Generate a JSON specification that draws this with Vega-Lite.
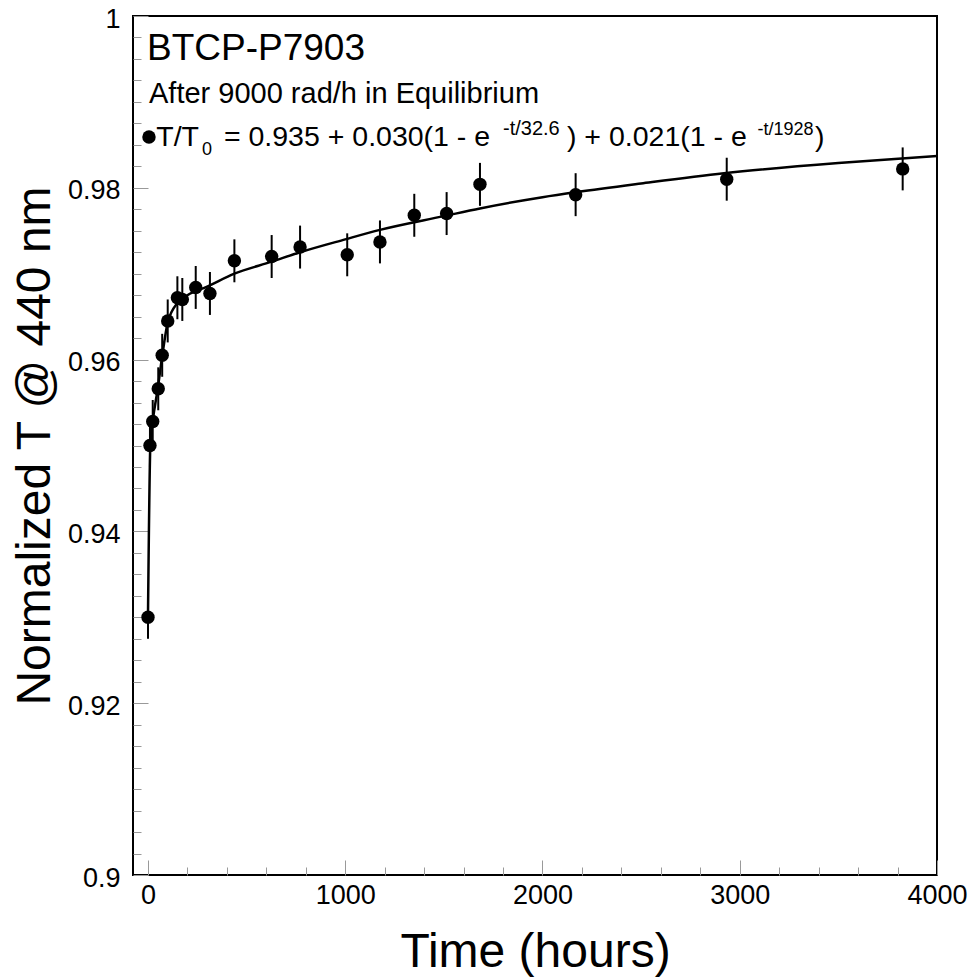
{
  "$schema": "https://vega.github.io/schema/vega-lite/v6.json",
  "width": 804,
  "height": 859,
  "autosize": {"type": "none"},
  "padding": {"left": 133, "top": 16, "right": 43, "bottom": 103},
  "background": "white",
  "config": {
    "view": {"stroke": "black", "strokeWidth": 2},
    "font": "Liberation Sans",
    "axis": {"grid": false, "domain": false, "labelFlush": false, "labelOverlap": false, "labelColor": "black", "titleColor": "black", "titleFontWeight": "normal", "labelFont": "Liberation Sans", "titleFont": "Liberation Sans"}
  },
  "datasets": {
    "points": [
      {"t": 0, "T": 0.9300, "lo": 0.9275, "hi": 0.9325},
      {"t": 10, "T": 0.9500, "lo": 0.9475, "hi": 0.9525},
      {"t": 24, "T": 0.9528, "lo": 0.9503, "hi": 0.9553},
      {"t": 52, "T": 0.9566, "lo": 0.9541, "hi": 0.9591},
      {"t": 72, "T": 0.9605, "lo": 0.9580, "hi": 0.9630},
      {"t": 100, "T": 0.9645, "lo": 0.9620, "hi": 0.9670},
      {"t": 149, "T": 0.9672, "lo": 0.9647, "hi": 0.9697},
      {"t": 174, "T": 0.9670, "lo": 0.9645, "hi": 0.9695},
      {"t": 242, "T": 0.9684, "lo": 0.9659, "hi": 0.9709},
      {"t": 314, "T": 0.9677, "lo": 0.9652, "hi": 0.9702},
      {"t": 438, "T": 0.9715, "lo": 0.9690, "hi": 0.9740},
      {"t": 627, "T": 0.9720, "lo": 0.9695, "hi": 0.9745},
      {"t": 771, "T": 0.9731, "lo": 0.9706, "hi": 0.9756},
      {"t": 1010, "T": 0.9722, "lo": 0.9697, "hi": 0.9747},
      {"t": 1176, "T": 0.9737, "lo": 0.9712, "hi": 0.9762},
      {"t": 1350, "T": 0.9768, "lo": 0.9743, "hi": 0.9793},
      {"t": 1514, "T": 0.9770, "lo": 0.9745, "hi": 0.9795},
      {"t": 1683, "T": 0.9804, "lo": 0.9779, "hi": 0.9829},
      {"t": 2168, "T": 0.9792, "lo": 0.9767, "hi": 0.9817},
      {"t": 2934, "T": 0.9810, "lo": 0.9785, "hi": 0.9835},
      {"t": 3826, "T": 0.9822, "lo": 0.9797, "hi": 0.9847}
    ],
    "curve": [
      {"t": 0, "T": 0.9302},
      {"t": 12, "T": 0.9500},
      {"t": 24, "T": 0.9528},
      {"t": 50, "T": 0.9567},
      {"t": 72, "T": 0.9604},
      {"t": 100, "T": 0.9643},
      {"t": 150, "T": 0.9666},
      {"t": 200, "T": 0.9675},
      {"t": 300, "T": 0.9685},
      {"t": 438, "T": 0.9700},
      {"t": 627, "T": 0.9714},
      {"t": 771, "T": 0.9725},
      {"t": 1000, "T": 0.9740},
      {"t": 1176, "T": 0.9751},
      {"t": 1500, "T": 0.9767},
      {"t": 1683, "T": 0.9776},
      {"t": 2000, "T": 0.9789},
      {"t": 2175, "T": 0.9795},
      {"t": 2500, "T": 0.9805},
      {"t": 2920, "T": 0.9817},
      {"t": 3500, "T": 0.9829},
      {"t": 4000, "T": 0.9837}
    ],
    "one": [{}]
  },
  "resolve": {"axis": {"x": "independent", "y": "independent"}},
  "layer": [
    {
      "data": {"name": "curve"},
      "mark": {"type": "line", "color": "black", "strokeWidth": 2.5, "interpolate": "monotone"},
      "encoding": {
        "x": {"field": "t", "type": "quantitative", "scale": {"domain": [-76, 4000], "nice": false, "zero": false},
          "axis": {"orient": "bottom", "values": [0, 1000, 2000, 3000, 4000], "format": "d", "ticks": false, "labelFontSize": 27, "labelPadding": 7, "title": "Time (hours)", "titleFontSize": 48, "titlePadding": 20}},
        "y": {"field": "T", "type": "quantitative", "scale": {"domain": [0.9, 1.0], "nice": false, "zero": false},
          "axis": {"orient": "left", "values": [0.9, 0.92, 0.94, 0.96, 0.98, 1.0], "ticks": false, "format": ".2~f", "labelFontSize": 27, "labelPadding": 13, "labelOffset": 3, "title": "Normalized T @ 440 nm", "titleFontSize": 48, "titlePadding": 18, "titleBaseline": "alphabetic"}}
      }
    },
    {
      "data": {"name": "points"},
      "mark": {"type": "rule", "color": "black", "strokeWidth": 2},
      "encoding": {
        "x": {"field": "t", "type": "quantitative", "scale": {"domain": [-76, 4000], "nice": false, "zero": false},
          "axis": {"orient": "bottom", "values": [0, 1000, 2000, 3000, 4000], "labels": false, "ticks": true, "tickSize": -15, "tickColor": "#999999", "tickWidth": 1, "title": null}},
        "y": {"field": "lo", "type": "quantitative", "scale": {"domain": [0.9, 1.0], "nice": false, "zero": false},
          "axis": {"orient": "left", "values": [0.9, 0.92, 0.94, 0.96, 0.98, 1.0], "labels": false, "ticks": true, "tickSize": -15, "tickColor": "#999999", "tickWidth": 1, "title": null}},
        "y2": {"field": "hi"}
      }
    },
    {
      "data": {"name": "points"},
      "mark": {"type": "circle", "color": "black", "opacity": 1, "size": 180},
      "encoding": {
        "x": {"field": "t", "type": "quantitative", "scale": {"domain": [-76, 4000], "nice": false, "zero": false},
          "axis": {"orient": "bottom", "values": [200, 400, 600, 800, 1200, 1400, 1600, 1800, 2200, 2400, 2600, 2800, 3200, 3400, 3600, 3800], "labels": false, "ticks": true, "tickSize": -8, "tickColor": "#999999", "tickWidth": 1, "title": null}},
        "y": {"field": "T", "type": "quantitative", "scale": {"domain": [0.9, 1.0], "nice": false, "zero": false},
          "axis": {"orient": "left", "values": [0.9025, 0.905, 0.9075, 0.91, 0.9125, 0.915, 0.9175, 0.9225, 0.925, 0.9275, 0.93, 0.9325, 0.935, 0.9375, 0.9425, 0.945, 0.9475, 0.95, 0.9525, 0.955, 0.9575, 0.9625, 0.965, 0.9675, 0.97, 0.9725, 0.975, 0.9775, 0.9825, 0.985, 0.9875, 0.99, 0.9925, 0.995, 0.9975], "labels": false, "ticks": true, "tickSize": -8, "tickColor": "#999999", "tickWidth": 1, "title": null}}
      }
    },
    {
      "data": {"name": "one"},
      "mark": {"type": "text", "text": "BTCP-P7903", "align": "left", "baseline": "alphabetic", "fontSize": 37, "font": "Liberation Sans", "color": "black"},
      "encoding": {"x": {"datum": -5, "type": "quantitative", "axis": null}, "y": {"datum": 0.99488, "type": "quantitative", "axis": null}}
    },
    {
      "data": {"name": "one"},
      "mark": {"type": "text", "text": "After 9000 rad/h in Equilibrium", "align": "left", "baseline": "alphabetic", "fontSize": 29, "font": "Liberation Sans", "color": "black"},
      "encoding": {"x": {"datum": 5, "type": "quantitative", "axis": null}, "y": {"datum": 0.98987, "type": "quantitative", "axis": null}}
    },
    {
      "data": {"name": "one"},
      "mark": {"type": "circle", "color": "black", "opacity": 1, "size": 180},
      "encoding": {"x": {"datum": 5, "type": "quantitative", "axis": null}, "y": {"datum": 0.98591, "type": "quantitative", "axis": null}}
    },
    {
      "data": {"name": "one"},
      "mark": {"type": "text", "text": "T/T", "align": "left", "baseline": "alphabetic", "fontSize": 28.5, "font": "Liberation Sans", "color": "black"},
      "encoding": {"x": {"datum": 42, "type": "quantitative", "axis": null}, "y": {"datum": 0.98487, "type": "quantitative", "axis": null}}
    },
    {
      "data": {"name": "one"},
      "mark": {"type": "text", "text": "0", "align": "left", "baseline": "alphabetic", "fontSize": 18, "font": "Liberation Sans", "color": "black"},
      "encoding": {"x": {"datum": 274, "type": "quantitative", "axis": null}, "y": {"datum": 0.98382, "type": "quantitative", "axis": null}}
    },
    {
      "data": {"name": "one"},
      "mark": {"type": "text", "text": "= 0.935 + 0.030(1 - e", "align": "left", "baseline": "alphabetic", "fontSize": 28.5, "font": "Liberation Sans", "color": "black"},
      "encoding": {"x": {"datum": 385, "type": "quantitative", "axis": null}, "y": {"datum": 0.98487, "type": "quantitative", "axis": null}}
    },
    {
      "data": {"name": "one"},
      "mark": {"type": "text", "text": "-t/32.6", "align": "left", "baseline": "alphabetic", "fontSize": 20, "font": "Liberation Sans", "color": "black"},
      "encoding": {"x": {"datum": 1800, "type": "quantitative", "axis": null}, "y": {"datum": 0.98615, "type": "quantitative", "axis": null}}
    },
    {
      "data": {"name": "one"},
      "mark": {"type": "text", "text": ") + 0.021(1 - e", "align": "left", "baseline": "alphabetic", "fontSize": 28.5, "font": "Liberation Sans", "color": "black"},
      "encoding": {"x": {"datum": 2124, "type": "quantitative", "axis": null}, "y": {"datum": 0.98487, "type": "quantitative", "axis": null}}
    },
    {
      "data": {"name": "one"},
      "mark": {"type": "text", "text": "-t/1928", "align": "left", "baseline": "alphabetic", "fontSize": 18, "font": "Liberation Sans", "color": "black"},
      "encoding": {"x": {"datum": 3090, "type": "quantitative", "axis": null}, "y": {"datum": 0.98615, "type": "quantitative", "axis": null}}
    },
    {
      "data": {"name": "one"},
      "mark": {"type": "text", "text": ")", "align": "left", "baseline": "alphabetic", "fontSize": 28.5, "font": "Liberation Sans", "color": "black"},
      "encoding": {"x": {"datum": 3381, "type": "quantitative", "axis": null}, "y": {"datum": 0.98487, "type": "quantitative", "axis": null}}
    }
  ]
}
